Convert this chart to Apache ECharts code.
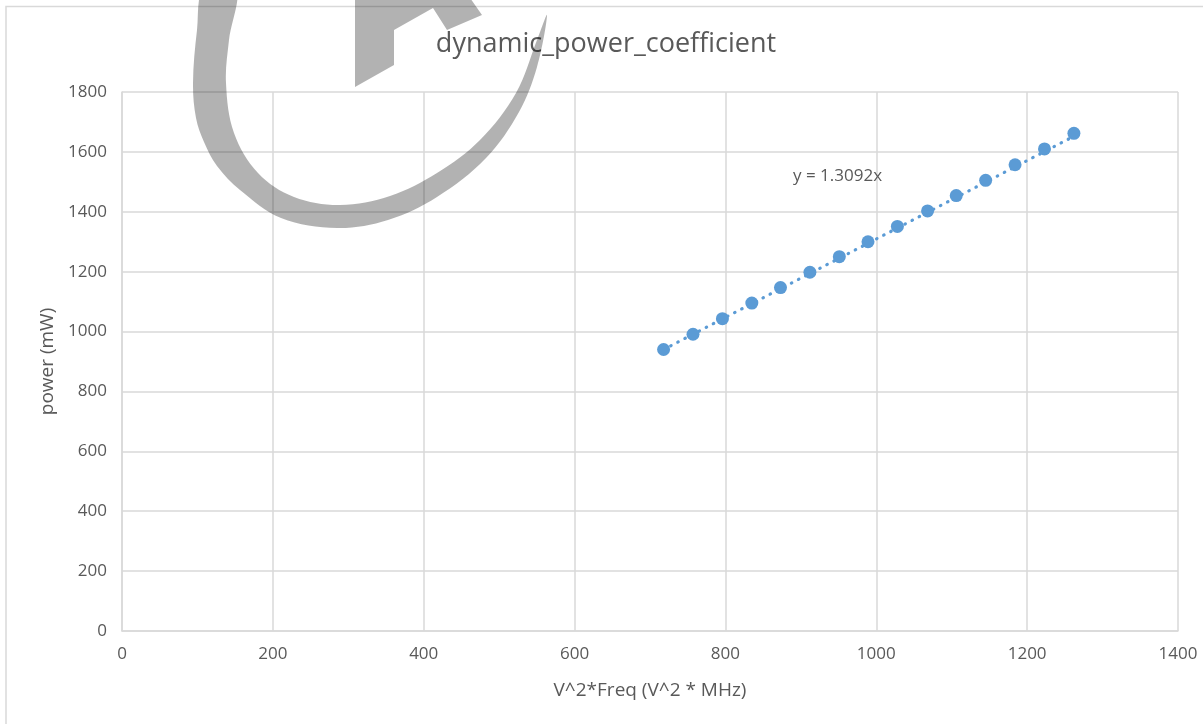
<!DOCTYPE html>
<html>
<head>
<meta charset="utf-8">
<script src="https://cdn.jsdelivr.net/npm/echarts@6/dist/echarts.min.js"></script>
<style>
html,body{margin:0;padding:0;background:#fff;}
#chart{width:1203px;height:724px;}
</style>
</head>
<body>
<div id="chart"></div>
<script>
// Data
var xValues = [718, 757, 796, 835, 873, 912, 951, 989, 1028, 1068, 1106, 1145, 1184, 1223, 1262];
var yValues = [940, 991, 1043, 1095, 1147, 1198, 1250, 1300, 1351, 1403, 1454, 1505, 1557, 1610, 1662];
var trendSlope = 1.3092;
var trendLabel = 'y = 1.3092x';
var titleText = 'dynamic_power_coefficient';
var xAxisName = 'V^2*Freq (V^2 * MHz)';
var yAxisName = 'power (mW)';

var points = xValues.map(function (x, i) { return [x, yValues[i]]; });
var xMin = Math.min.apply(null, xValues), xMax = Math.max.apply(null, xValues);
var trend = [[xMin, trendSlope * xMin], [xMax, trendSlope * xMax]];

var FONT = '"Open Sans", sans-serif';
var TXT = '#595959';
var GRID = '#d9d9d9';
var BLUE = '#5B9BD5';
var WM = 'rgba(0,0,0,0.3)';
function plain(v) { return String(v); }

var chart = echarts.init(document.getElementById('chart'));
chart.setOption({
  backgroundColor: '#fff',
  animation: false,
  grid: { left: 122, right: 25, top: 92, bottom: 93, containLabel: false },
  xAxis: {
    type: 'value', min: 0, max: 1400, interval: 200,
    name: xAxisName, nameLocation: 'middle', nameGap: 50,
    nameTextStyle: { fontFamily: FONT, fontSize: 19, color: TXT },
    axisLine: { show: true, lineStyle: { color: GRID, width: 1.5 } },
    axisTick: { show: false },
    axisLabel: { fontFamily: FONT, fontSize: 17, color: TXT, margin: 15, formatter: plain },
    splitLine: { show: true, lineStyle: { color: GRID, width: 1.5 } }
  },
  yAxis: {
    type: 'value', min: 0, max: 1800, interval: 200,
    name: yAxisName, nameLocation: 'middle', nameGap: 64, nameRotate: 90,
    nameTextStyle: { fontFamily: FONT, fontSize: 19, color: TXT },
    axisLine: { show: true, lineStyle: { color: GRID, width: 1.5 } },
    axisTick: { show: false },
    axisLabel: { fontFamily: FONT, fontSize: 17, color: TXT, margin: 15, formatter: plain },
    splitLine: { show: true, lineStyle: { color: GRID, width: 1.5 } }
  },
  series: [
    {
      type: 'line', data: trend, showSymbol: false, symbol: 'none', z: 2,
      lineStyle: { color: BLUE, width: 3.2, type: [0.5, 7.5], cap: 'round', opacity: 1 },
      silent: true
    },
    {
      type: 'scatter', data: points, symbol: 'circle', symbolSize: 13, z: 3,
      itemStyle: { color: BLUE, opacity: 1 }
    }
  ],
  graphic: [
    { type: 'rect', z: -1, silent: true,
      shape: { x: 6, y: 6.5, width: 1400, height: 900 },
      style: { fill: 'none', stroke: '#d9d9d9', lineWidth: 1.5 } },
    { type: 'text', x: 606, y: 44, z: 10,
      style: { text: titleText, fontFamily: FONT, fontSize: 27, fill: TXT,
               textAlign: 'center', textVerticalAlign: 'middle' } },
    { type: 'text', x: 793, y: 176, z: 10,
      style: { text: trendLabel, fontFamily: FONT, fontSize: 17, fill: TXT,
               textAlign: 'left', textVerticalAlign: 'middle' } },
    { type: 'polygon', z: 100, silent: true,
      shape: { smooth: 0.35, points: [
        [204,-12],[197,30],[193,83],[196,118],[204,142],[217,166],[240,190],[281,218],[337,228],[388,220],[437,197],[486,158],[519,112],[537,67],[547,15],
        [537,40],[516,93],[480,140],[437,173],[390,196],[340,205],[294,197],[258,173],[234,133],[226,83],[229,40],[236,-12]
      ] },
      style: { fill: WM } },
    { type: 'polygon', z: 100, silent: true,
      shape: { points: [[355,-5],[468,-5],[482,15],[447,30],[433,8],[394,30],[394,65],[355,87]] },
      style: { fill: WM } }
  ]
});
</script>
</body>
</html>
